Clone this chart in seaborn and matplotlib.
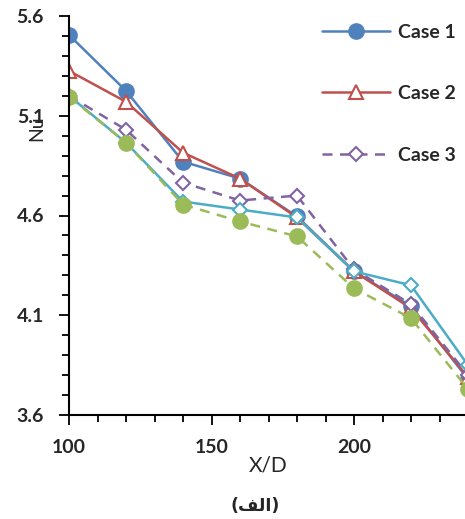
import numpy as np
import pandas as pd
import seaborn as sns
import matplotlib.pyplot as plt
from matplotlib.ticker import MultipleLocator

# data
x_d = [100, 120, 140, 160, 180, 200, 220, 240]
case1 = [5.505, 5.225, 4.87, 4.785, 4.595, 4.32, 4.145, 3.78]
case2 = [5.325, 5.17, 4.915, 4.785, 4.59, 4.32, 4.135, 3.79]
case3 = [5.2, 5.03, 4.765, 4.675, 4.70, 4.33, 4.155, 3.80]
case4 = [5.2, 4.965, 4.67, 4.63, 4.59, 4.32, 4.25, 3.85]
case5 = [5.195, 4.965, 4.655, 4.57, 4.495, 4.235, 4.085, 3.73]
y_ticks = [3.6, 4.1, 4.6, 5.1, 5.6]
x_ticks = [100, 150, 200]

sns.set_style("white")
plt.rcParams['font.family'] = ['Lato', 'DejaVu Sans']

fig = plt.figure(figsize=(4.65, 5.19), dpi=100)
ax = fig.add_axes([69 / 465, 104 / 519, 399 / 465, 399 / 519])

styles = [
    (case1, "Case 1", "#4F81BD", "o", "#4F81BD", "-", 10.5),
    (case2, "Case 2", "#C0504D", "^", "white", "-", 10),
    (case3, "Case 3", "#8064A2", "D", "white", (0, (4, 3)), 7.5),
    (case4, "Case 4", "#4BACC6", "D", "white", "-", 7.5),
    (case5, "Case 5", "#9BBB59", "o", "#9BBB59", (0, (4, 3)), 10.5),
]
handles = []
for vals, name, col, mk, fc, ls, ms in styles:
    df = pd.DataFrame({"x": x_d, "y": vals})
    sns.lineplot(data=df, x="x", y="y", ax=ax, color=col, marker=mk,
                 markersize=ms, markerfacecolor=fc, markeredgecolor=col,
                 markeredgewidth=1.5, linestyle=ls, linewidth=1.8)
    handles.append(ax.lines[-1])

ax.set_xlim(100, 240)
ax.set_ylim(3.6, 5.6)
ax.set_xticks(x_ticks)
ax.set_yticks(y_ticks)
ax.xaxis.set_minor_locator(MultipleLocator(10))
ax.yaxis.set_minor_locator(MultipleLocator(0.1))
ax.tick_params(axis="both", which="major", direction="out", length=7, width=1.3,
               color="black", labelsize=14, bottom=True, left=True)
ax.tick_params(axis="both", which="minor", direction="out", length=5, width=1.3,
               color="black", bottom=True, left=True)
ax.tick_params(axis="y", pad=11)
ax.tick_params(axis="x", pad=10)
ax.set_yticklabels(["3.6", "4.1", "4.6", "5.1", "5.6"])
for lab in ax.get_xticklabels() + ax.get_yticklabels():
    lab.set_fontweight("bold")

for s in ["top", "right"]:
    ax.spines[s].set_visible(False)
for s in ["left", "bottom"]:
    ax.spines[s].set_color("black")
    ax.spines[s].set_linewidth(1.5)

ax.set_xlabel("")
ax.set_ylabel("")
fig.text(268 / 465, 1 - 466 / 519, "X/D", ha="center", va="center", fontsize=15)
fig.text(37 / 465, 1 - 128 / 519, "Nu", ha="center", va="center", fontsize=14,
         rotation=90)
# (الف) written in visual order with presentation forms
fig.text(255 / 465, 1 - 506 / 519, "(\ufed2\ufedf\u0627)", ha="center", va="center",
         fontsize=12.6, fontweight="bold", family=["DejaVu Sans"])

leg = ax.legend(handles[:3], ["Case 1", "Case 2", "Case 3"], loc="upper left",
                bbox_to_anchor=(322 / 465, 1 - 23.5 / 519),
                bbox_transform=fig.transFigure, frameon=False,
                handlelength=3.5, handletextpad=0.41, labelspacing=2.29,
                borderpad=0, borderaxespad=0, prop={"size": 14, "weight": "bold"})

fig.savefig("out.png", dpi=100)
